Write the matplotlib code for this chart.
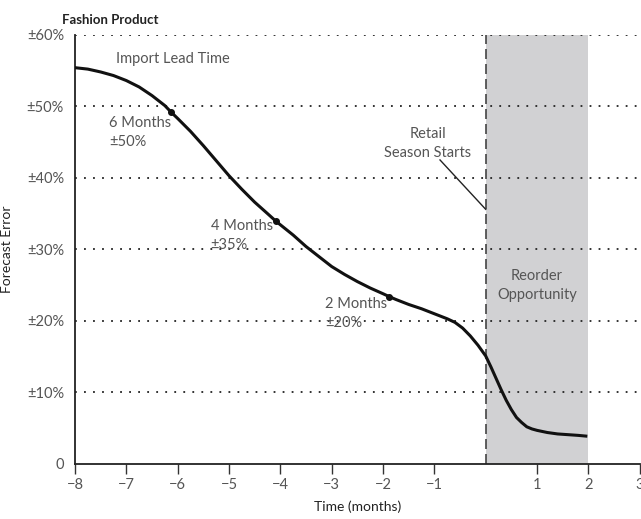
import matplotlib
matplotlib.use('Agg')
from matplotlib import pyplot as plt

# curve (months, forecast error %)
months = [-8, -7.75, -7.5, -7.25, -7, -6.75, -6.5, -6.25, -6.13, -6, -5.75,
          -5.5, -5.25, -5, -4.75, -4.5, -4.25, -4.08, -3.75, -3.5, -3.25,
          -3, -2.75, -2.5, -2.25, -2, -1.88, -1.75, -1.5, -1.25, -1, -0.75,
          -0.6, -0.45, -0.3, -0.15, 0, 0.1, 0.2, 0.3, 0.4, 0.5, 0.6, 0.7,
          0.8, 0.9, 1.0, 1.2, 1.4, 1.6, 1.8, 1.95]
error = [55.4, 55.2, 54.8, 54.3, 53.6, 52.7, 51.5, 50.1, 49.2, 48.3, 46.5,
         44.5, 42.4, 40.3, 38.4, 36.6, 35.0, 33.9, 32.0, 30.4, 29.0,
         27.6, 26.5, 25.5, 24.6, 23.8, 23.4, 23.0, 22.3, 21.7, 21.0, 20.3,
         19.8, 19.0, 17.9, 16.6, 15.1, 13.6, 12.0, 10.4, 8.9, 7.6, 6.5, 5.8,
         5.2, 4.9, 4.7, 4.4, 4.2, 4.1, 4.0, 3.9]

# marked points along the curve
mark_months = [-6.13, -4.08, -1.88]
mark_error = [49.2, 33.9, 23.4]
mark_labels = ['6 Months\n\u00b150%', '4 Months\n\u00b135%', '2 Months\n\u00b120%']
mark_label_pos = [(-7.34, 46.4), (-5.36, 31.9), (-3.13, 21.0)]

xticks = [-8, -7, -6, -5, -4, -3, -2, -1, 1, 2, 3]
yticks = [0, 10, 20, 30, 40, 50, 60]
ytick_labels = ['0'] + ['\u00b1%d%%' % v for v in yticks[1:]]

season_start = 0
reorder_end = 2

plt.rcParams['font.family'] = ['Lato', 'DejaVu Sans']
grey = '#555555'

fig = plt.figure(figsize=(6.41, 5.19), dpi=100)
ax = fig.add_axes([0.117, 0.106, 0.881, 0.827])

ax.axvspan(season_start, reorder_end, color='#d1d1d3', lw=0, zorder=0)
for v in yticks[1:]:
    ax.axhline(v, color='#222222', lw=1.3, ls=(0, (1, 4)), zorder=1)
ax.axvline(season_start, color='#444444', lw=1.2, ls=(0, (6, 3)), zorder=2)

ax.plot(months, error, color='#111111', lw=2.2, zorder=3,
        solid_joinstyle='round')
ax.plot(mark_months, mark_error, 'o', color='#111111', ms=4, zorder=4)

for (lx, ly), txt in zip(mark_label_pos, mark_labels):
    ax.text(lx, ly, txt, color=grey, fontsize=10.5, ha='left', va='center',
            linespacing=1.45)

ax.text(-6.1, 56.6, 'Import Lead Time', color=grey, fontsize=10.5,
        ha='center', va='center')
ax.text(-1.13, 44.8, 'Retail\nSeason Starts', color=grey, fontsize=10.5,
        ha='center', va='center', linespacing=1.45)
ax.plot([-0.89, season_start], [42.5, 35.6], color='#222222', lw=1)
ax.text(1.0, 25.0, 'Reorder\nOpportunity', color=grey, fontsize=10.5,
        ha='center', va='center', linespacing=1.45)

ax.set_xlim(-8, 3)
ax.set_ylim(0, 60)
ax.set_xticks(xticks)
ax.set_xticklabels(['\u2212%d' % -v if v < 0 else str(v) for v in xticks])
ax.set_yticks(yticks)
ax.set_yticklabels(ytick_labels)
ax.tick_params(axis='x', direction='out', length=7, width=1, colors='#333333',
               labelsize=10.5, labelcolor=grey, pad=3)
ax.tick_params(axis='y', length=0, labelsize=10.5, labelcolor=grey, pad=8)

for side in ['top', 'right']:
    ax.spines[side].set_visible(False)
for side in ['left', 'bottom']:
    ax.spines[side].set_color('#222222')
    ax.spines[side].set_linewidth(1.3)

ax.set_xlabel('Time (months)', fontsize=10, color='#222222', labelpad=6)
ax.set_ylabel('Forecast Error', fontsize=10, color='#222222', labelpad=10)
fig.text(0.097, 0.962, 'Fashion Product', fontsize=9.5, fontweight='bold',
         color='#222222', ha='left', va='center')

fig.savefig('out.png', dpi=100)
